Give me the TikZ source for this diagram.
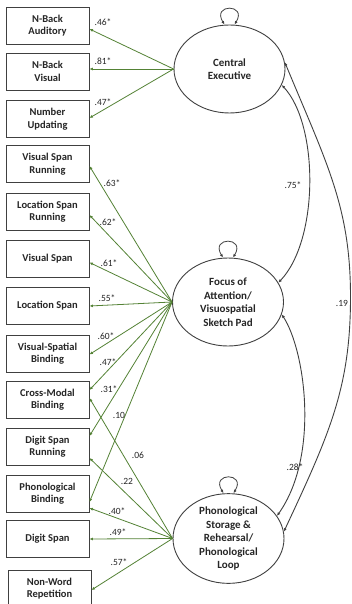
\documentclass[tikz,border=0pt]{standalone}
\usepackage{fontspec}
\setmainfont{Carlito}
\usetikzlibrary{shapes.geometric,arrows.meta}
\definecolor{grn}{RGB}{84,130,53}
\definecolor{edgec}{RGB}{64,64,64}
\definecolor{txtc}{RGB}{38,38,38}
\begin{document}
\begin{tikzpicture}[x=1pt,y=-1pt,
  obsbox/.style={draw=edgec,line width=0.9pt,minimum width=83pt,minimum height=37pt,inner sep=1pt,align=center,font=\fontsize{10.5}{12.5}\selectfont\bfseries,text=txtc},
  latent/.style={draw=edgec,line width=0.9pt,ellipse,minimum width=111pt,minimum height=88pt,inner sep=0pt,align=center,font=\fontsize{11}{13.5}\selectfont\bfseries,text=txtc},
  loadarrow/.style={grn,line width=0.8pt,-{Latex[length=3.5pt,width=3pt]}},
  covarrow/.style={edgec,line width=0.9pt,{Latex[length=3.5pt,width=3pt]}-{Latex[length=3.5pt,width=3pt]}},
  lbl/.style={font=\fontsize{9.5}{11}\selectfont,text=txtc,inner sep=0pt}]
\clip (0,0) rectangle (352,604);
\fill[white] (0,0) rectangle (352,604);
% observed
\node[obsbox] (a1) at (47.5,25.5) {N-Back\\Auditory};
\node[obsbox] (a2) at (47.5,71.5) {N-Back\\Visual};
\node[obsbox] (a3) at (47.5,119) {Number\\Updating};
\node[obsbox] (a4) at (47.5,164) {Visual Span\\Running};
\node[obsbox] (a5) at (47.5,211.5) {Location Span\\Running};
\node[obsbox] (a6) at (47.5,258.5) {Visual Span};
\node[obsbox] (a7) at (47.5,306) {Location Span};
\node[obsbox] (a8) at (47.5,353.5) {Visual-Spatial\\Binding};
\node[obsbox] (a9) at (47.5,399.5) {Cross-Modal\\Binding};
\node[obsbox] (a10) at (47.5,446.5) {Digit Span\\Running};
\node[obsbox] (a11) at (47.5,493.5) {Phonological\\Binding};
\node[obsbox] (a12) at (47.5,539) {Digit Span};
\node[obsbox] (a13) at (49.5,588.5) {Non-Word\\Repetition};
% latent
\node[latent] (ce) at (229.5,69) {Central\\Executive};
\node[latent] (fo) at (228,302) {Focus of\\Attention/\\Visuospatial\\Sketch Pad};
\node[latent] (ph) at (228.5,538.5) {Phonological\\Storage \&\\Rehearsal/\\Phonological\\Loop};
% loadings CE
\draw[loadarrow] (ce.west) -- ([yshift=-3.5pt]a1.east);
\draw[loadarrow] (ce.west) -- ([yshift=2.5pt]a2.east);
\draw[loadarrow] (ce.west) -- ([yshift=1pt]a3.east);
% loadings Focus
\draw[loadarrow] (fo.west) -- ([yshift=-2pt]a4.east);
\draw[loadarrow] (fo.west) -- ([yshift=-3.5pt]a5.east);
\draw[loadarrow] (fo.west) -- ([yshift=-4pt]a6.east);
\draw[loadarrow] (fo.west) -- (a7.east);
\draw[loadarrow] (fo.west) -- ([yshift=-1pt]a8.east);
\draw[loadarrow] (fo.west) -- ([yshift=9.5pt]a9.east);
\draw[loadarrow] (fo.west) -- ([yshift=10.5pt]a10.east);
\draw[loadarrow] (fo.west) -- ([yshift=-8.5pt]a11.east);
% loadings Phono
\draw[loadarrow] (ph.west) -- ([yshift=1.5pt]a9.east);
\draw[loadarrow] (ph.west) -- ([yshift=-11.5pt]a10.east);
\draw[loadarrow] (ph.west) -- ([yshift=-14.5pt]a11.east);
\draw[loadarrow] (ph.west) -- (a12.east);
\draw[loadarrow] (ph.west) -- ([yshift=-1.5pt]a13.east);
% loading labels
\node[lbl] at (103,22) {.46*};
\node[lbl] at (103,61) {.81*};
\node[lbl] at (103,102) {.47*};
\node[lbl] at (112,183) {.63*};
\node[lbl] at (108,222) {.62*};
\node[lbl] at (109,263) {.61*};
\node[lbl] at (107,298) {.55*};
\node[lbl] at (106,336) {.60*};
\node[lbl] at (108,362) {.47*};
\node[lbl] at (109,389) {.31*};
\node[lbl] at (119,415) {.10};
\node[lbl] at (138,455) {.06};
\node[lbl] at (127,481) {.22};
\node[lbl] at (117,511) {.40*};
\node[lbl] at (118,532) {.49*};
\node[lbl] at (119,562) {.57*};
% covariances
\draw[covarrow] (ce.-17) .. controls (319,125) and (319,240) .. (fo.21);
\draw[covarrow] (fo.-13) .. controls (305,350) and (320,455) .. (ph.25);
\draw[covarrow] (ce.7) .. controls (327,164) and (350.5,207) .. (350.5,297)
   .. controls (350.5,387) and (330,433) .. (ph.7);
\node[lbl] at (293,185) {.75*};
\node[lbl] at (295,467) {.28*};
\node[lbl] at (342,303) {.19};
% self loops
\draw[covarrow,line width=0.8pt] ([xshift=-5pt]ce.north) .. controls +(-13,-21) and +(13,-21) .. ([xshift=5pt]ce.north);
\draw[covarrow,line width=0.8pt] ([xshift=-5pt]fo.north) .. controls +(-13,-21) and +(13,-21) .. ([xshift=5pt]fo.north);
\draw[covarrow,line width=0.8pt] ([xshift=-5pt]ph.north) .. controls +(-13,-21) and +(13,-21) .. ([xshift=5pt]ph.north);
\end{tikzpicture}
\end{document}
